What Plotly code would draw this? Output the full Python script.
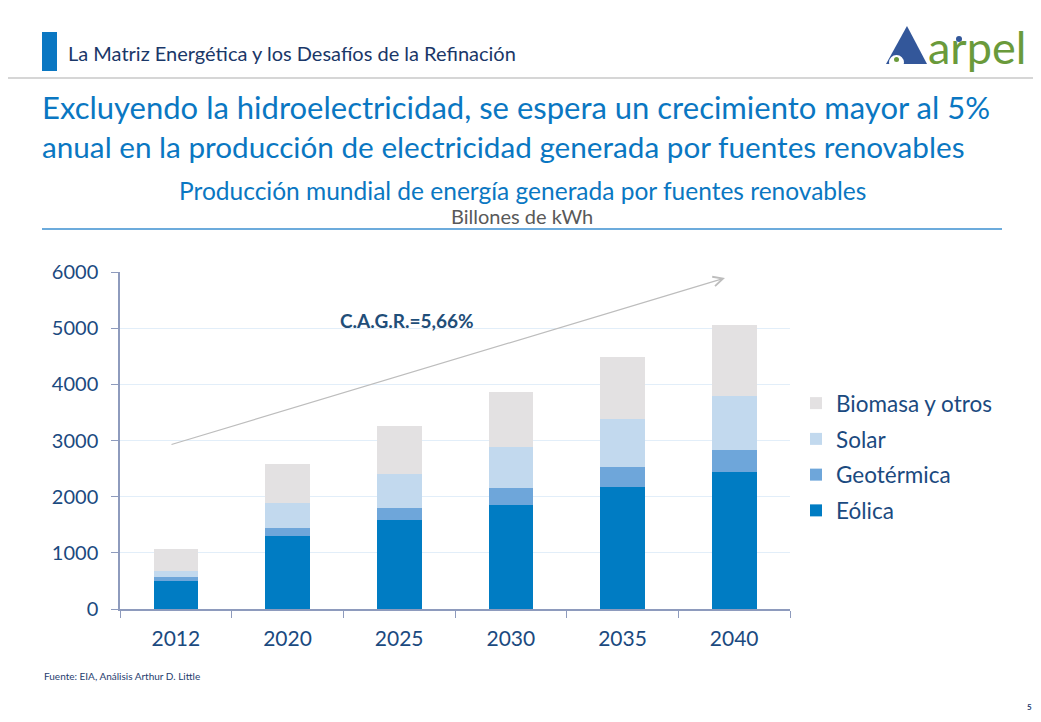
# Producción mundial de energía renovable — stacked bars
import plotly.graph_objects as go

years = ["2012", "2020", "2025", "2030", "2035", "2040"]
eolica = [504, 1305, 1590, 1857, 2178, 2445]
geotermica = [71, 137, 214, 297, 356, 392]
solar = [107, 445, 599, 730, 849, 961]
biomasa = [391, 689, 860, 979, 1109, 1258]

series_names = ["Eólica", "Geotérmica", "Solar", "Biomasa y otros"]
series_colors = ["#007cc3", "#6ea6da", "#c2d9ee", "#e3e1e2"]

OFF = 8  # page body margin
W, H = 1041 - OFF, 722 - OFF
PL, PR, PT, PB = 120 - OFF, 790 - OFF, 272 - OFF, 609 - OFF  # plot area (figure px)
NAVY = "#1b4a7f"
BLUE = "#0a77c2"
FONT = "Lato"


# convert page pixel positions to paper coordinates
def px(x):
    return (x - OFF - PL) / (PR - PL)


def py(y):
    return (PB - (y - OFF)) / (PB - PT)


fig = go.Figure()
for i, (name, vals, col) in enumerate(zip(series_names, [eolica, geotermica, solar, biomasa], series_colors)):
    fig.add_trace(go.Bar(
        x=years, y=vals, name=name, legendgroup=name, legendrank=10 - i,
        marker=dict(color=col, line=dict(width=0)),
    ))

shapes = [
    # slide frame (right edge)
    dict(type="rect", x0=px(1036), x1=px(1045), y0=py(OFF), y1=py(730), fillcolor="black", line_width=0),
    # header
    dict(type="line", x0=px(3), x1=px(1036), y0=py(78), y1=py(78), line=dict(color="#c8c8c8", width=1.5)),
    dict(type="rect", x0=px(42), x1=px(57), y0=py(32), y1=py(71), fillcolor="#0a77c2", line_width=0),
    # subtitle rule
    dict(type="line", x0=px(42), x1=px(1002), y0=py(229), y1=py(229), line=dict(color="#3b8fd0", width=1.5)),
    # logo triangle
    dict(type="path",
         path=f"M{px(907)},{py(26)} L{px(927)},{py(64)} L{px(886)},{py(64)} Z",
         fillcolor="#33579a", line_width=0),
    dict(type="circle", x0=px(889), x1=px(904), y0=py(55), y1=py(70), fillcolor="white", line_width=0),
    dict(type="rect", x0=px(884), x1=px(929), y0=py(64), y1=py(72), fillcolor="white", line_width=0),
    dict(type="circle", x0=px(894), x1=px(899), y0=py(57), y1=py(62), fillcolor="#6a9a3b", line_width=0),
    dict(type="circle", x0=px(956), x1=px(962), y0=py(36), y1=py(42), fillcolor="#33579a", line_width=0),
]

annotations = [
    dict(x=px(66), y=py(53), text="La Matriz Energética y los Desafíos de la Refinación",
         xanchor="left", yanchor="middle", font=dict(size=20, color="#1a3768")),
    dict(x=px(926), y=py(47), text="arpel", xanchor="left", yanchor="middle",
         font=dict(size=45, color="#6a9a3b")),
    dict(x=px(40), y=py(107), text="Excluyendo la hidroelectricidad, se espera un crecimiento mayor al 5%",
         xanchor="left", yanchor="middle", font=dict(size=31, color=BLUE)),
    dict(x=px(40), y=py(146), text="anual en la producción de electricidad generada por fuentes renovables",
         xanchor="left", yanchor="middle", font=dict(size=29.7, color=BLUE)),
    dict(x=px(522), y=py(190), text="Producción mundial de energía generada por fuentes renovables",
         xanchor="center", yanchor="middle", font=dict(size=24.5, color=BLUE)),
    dict(x=px(522), y=py(216), text="Billones de kWh",
         xanchor="center", yanchor="middle", font=dict(size=20, color="#595959")),
    dict(x=px(407), y=py(320), text="<b>C.A.G.R.=5,66%</b>",
         xanchor="center", yanchor="middle", font=dict(size=19, color="#1f4e79")),
    dict(x=px(725), y=py(278), ax=170 - 725, ay=445 - 278, text="", showarrow=True,
         arrowhead=5, arrowsize=1.6, arrowwidth=1.2, arrowcolor="#bdbdbd"),
    dict(x=px(42), y=py(676), text="Fuente: EIA, Análisis Arthur D. Little",
         xanchor="left", yanchor="middle", font=dict(size=10, color="#1f3d6e")),
    dict(x=px(1029), y=py(707), text="<b>5</b>",
         xanchor="center", yanchor="middle", font=dict(size=8, color="#1f3d6e")),
]
for a in annotations:
    a.setdefault("xref", "paper")
    a.setdefault("yref", "paper")
    a.setdefault("showarrow", False)

for s in shapes:
    s["xref"] = "paper"
    s["yref"] = "paper"
    s["layer"] = "above"

fig.update_layout(
    barmode="stack",
    bargap=0.6,
    width=W, height=H, autosize=False,
    margin=dict(l=PL, r=W - PR, t=PT, b=H - PB, pad=0),
    plot_bgcolor="white",
    paper_bgcolor="white",
    font=dict(family=FONT, color=NAVY),
    shapes=shapes,
    annotations=annotations,
    legend=dict(
        x=px(796), y=py(382), xanchor="left", yanchor="top",
        traceorder="grouped", tracegroupgap=3.5,
        font=dict(size=22.5, color=NAVY), bgcolor="rgba(0,0,0,0)",
    ),
    xaxis=dict(
        showline=True, linecolor="#8e9bbd", linewidth=1.5,
        ticks="outside", tickson="boundaries", ticklen=7, tickcolor="#8e9bbd",
        tickfont=dict(size=21, color=NAVY), ticklabelstandoff=10,
        showgrid=False,
    ),
    yaxis=dict(
        range=[0, 6000], dtick=1000,
        showline=True, linecolor="#8e9bbd", linewidth=1.5,
        ticks="outside", ticklen=7, tickcolor="#8e9bbd",
        tickfont=dict(size=20, color=NAVY), ticklabelstandoff=9,
        showgrid=True, gridcolor="#e2eef9", gridwidth=1, zeroline=False,
    ),
)

fig.write_html("out.html")
